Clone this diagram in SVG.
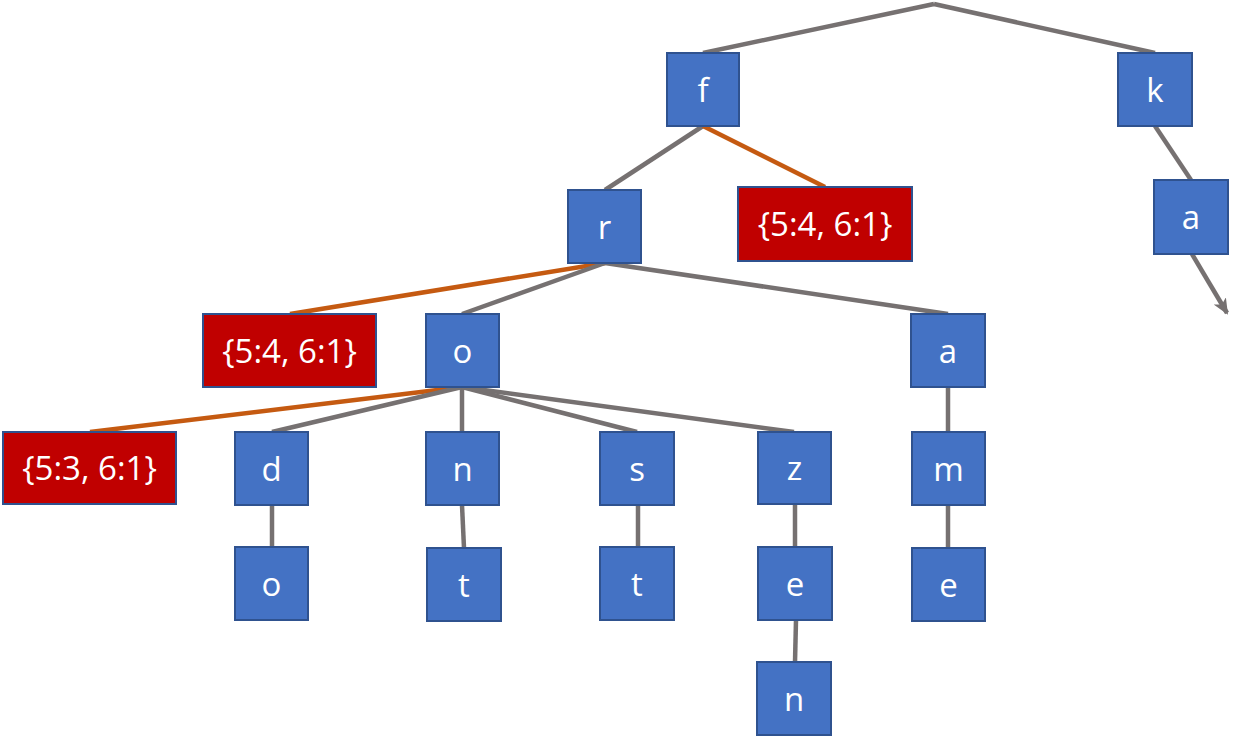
<svg xmlns="http://www.w3.org/2000/svg" width="1244" height="742" viewBox="0 0 1244 742">
<style>
.n rect{fill:#4472C4;stroke:#2F528F;stroke-width:2}
.v rect{fill:#C00000;stroke:#2F528F;stroke-width:2}
text{font-family:"Open Sans","Noto Sans",sans-serif;font-size:33px;fill:#ffffff;text-anchor:middle}
.e line{stroke:#767171;stroke-width:4.5}
.e line.o{stroke:#C55A11}
</style>
<defs>
<marker id="ah" viewBox="0 0 16 14" refX="14" refY="7" markerWidth="16" markerHeight="14" markerUnits="userSpaceOnUse" orient="auto">
<path d="M0,0 L16,7 L0,14 L4,7 Z" fill="#767171"/>
</marker>
</defs>
<rect width="1244" height="742" fill="#ffffff"/>
<g id="connectors" class="e">
<line x1="934" y1="4" x2="703" y2="53"/>
<line x1="934" y1="4" x2="1155" y2="53"/>
<line x1="703" y1="126" x2="605" y2="190"/>
<line class="o" x1="703" y1="126" x2="825" y2="187"/>
<line class="o" x1="605" y1="263" x2="290" y2="314"/>
<line x1="605" y1="263" x2="462" y2="314"/>
<line x1="605" y1="263" x2="948" y2="314"/>
<line class="o" x1="462" y1="387" x2="90" y2="432"/>
<line x1="462" y1="387" x2="272" y2="432"/>
<line x1="462" y1="387" x2="462" y2="432"/>
<line x1="462" y1="387" x2="637" y2="432"/>
<line x1="462" y1="387" x2="794" y2="432"/>
<line x1="272" y1="505" x2="272" y2="547"/>
<line x1="462" y1="505" x2="464" y2="548"/>
<line x1="638" y1="505" x2="638" y2="547"/>
<line x1="795" y1="504" x2="795" y2="547"/>
<line x1="796" y1="620" x2="795" y2="662"/>
<line x1="948" y1="387" x2="948" y2="432"/>
<line x1="948" y1="505" x2="948" y2="548"/>
<line x1="1155" y1="126" x2="1191" y2="180"/>
<line x1="1192" y1="254" x2="1227" y2="313" marker-end="url(#ah)"/>
</g>
<g id="node-f" class="n"><rect x="667" y="53" width="72" height="73"/><text x="703" y="101.5">f</text></g>
<g id="node-k" class="n"><rect x="1118" y="53" width="74" height="73"/><text x="1155" y="101.5">k</text></g>
<g id="node-r" class="n"><rect x="568" y="190" width="73" height="73"/><text x="604.5" y="238.5">r</text></g>
<g id="val-f" class="v"><rect x="738" y="187" width="174" height="74"/><text x="825" y="236">{5:4, 6:1}</text></g>
<g id="node-ka" class="n"><rect x="1154" y="180" width="74" height="74"/><text x="1191" y="229">a</text></g>
<g id="val-r" class="v"><rect x="203" y="314" width="173" height="73"/><text x="289.5" y="362.5">{5:4, 6:1}</text></g>
<g id="node-ro" class="n"><rect x="426" y="314" width="73" height="73"/><text x="462.5" y="362.5">o</text></g>
<g id="node-ra" class="n"><rect x="911" y="314" width="74" height="73"/><text x="948" y="362.5">a</text></g>
<g id="val-o" class="v"><rect x="3" y="432" width="173" height="72"/><text x="89.5" y="480">{5:3, 6:1}</text></g>
<g id="node-d" class="n"><rect x="235" y="432" width="73" height="73"/><text x="271.5" y="480.5">d</text></g>
<g id="node-n" class="n"><rect x="426" y="432" width="73" height="73"/><text x="462.5" y="480.5">n</text></g>
<g id="node-s" class="n"><rect x="600" y="432" width="74" height="73"/><text x="637" y="480.5">s</text></g>
<g id="node-z" class="n"><rect x="758" y="432" width="73" height="72"/><text x="794.5" y="480">z</text></g>
<g id="node-m" class="n"><rect x="912" y="432" width="73" height="73"/><text x="948.5" y="480.5">m</text></g>
<g id="node-do" class="n"><rect x="235" y="547" width="73" height="73"/><text x="271.5" y="595.5">o</text></g>
<g id="node-nt" class="n"><rect x="427" y="548" width="74" height="73"/><text x="464" y="596.5">t</text></g>
<g id="node-st" class="n"><rect x="600" y="547" width="74" height="73"/><text x="637" y="595.5">t</text></g>
<g id="node-ze" class="n"><rect x="758" y="547" width="74" height="73"/><text x="795" y="595.5">e</text></g>
<g id="node-me" class="n"><rect x="912" y="548" width="73" height="73"/><text x="948.5" y="596.5">e</text></g>
<g id="node-en" class="n"><rect x="757" y="662" width="74" height="73"/><text x="794" y="710.5">n</text></g>
</svg>
